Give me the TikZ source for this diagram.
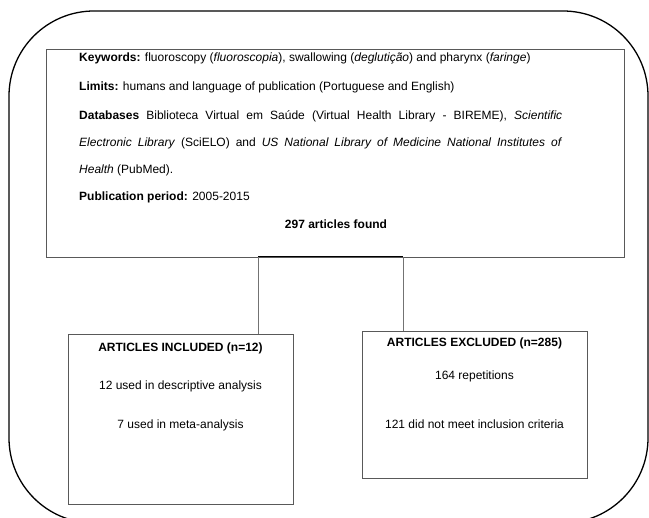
\documentclass[tikz,border=0pt]{standalone}
\usepackage{fontspec}
\setmainfont{Liberation Sans}
\usepackage{tikz}

\begin{document}
\begin{tikzpicture}[x=1pt, y=-1pt,
    every node/.style={font=\fontsize{12}{14}\selectfont},
    box/.style={draw=black!65, line width=0.8pt, rectangle, inner sep=0pt},
    line/.style={anchor=west, inner sep=0pt, text height=9pt, text depth=3pt},
    mid/.style={inner sep=0pt, text height=9pt, text depth=3pt},
    link/.style={draw=black!55, line width=0.8pt}]
    \useasboundingbox (0,0) rectangle (649,518);

    % frame round everything
    \draw[line width=1.3pt, rounded corners=85pt] (9,11) rectangle (648,523);

    % search box
    \node[box, minimum width=578pt, minimum height=208pt] (search) at (335,153) {};
    \node[line] (kw) at (79,59) {\textbf{Keywords:} fluoroscopy (\textit{fluoroscopia}), swallowing (\textit{deglutição}) and pharynx (\textit{faringe})};
    \node[line] (lim) at (79,88) {\textbf{Limits:} humans and language of publication (Portuguese and English)};
    \node[line] (db1) at (79,117) {\makebox[483pt][s]{\textbf{Databases} Biblioteca Virtual em Saúde (Virtual Health Library - BIREME), \textit{Scientific}}};
    \node[line] (db2) at (79,144) {\makebox[483pt][s]{\textit{Electronic Library} (SciELO) and \textit{US National Library of Medicine National Institutes of}}};
    \node[line] (db3) at (79,171) {\textit{Health} (PubMed).};
    \node[line] (per) at (79,198) {\textbf{Publication period:} 2005-2015};
    \node[mid] (found) at (336,226) {\textbf{297 articles found}};

    % result boxes
    \node[box, minimum width=225pt, minimum height=170pt] (inc) at (180.5,419) {};
    \node[mid] (inctitle) at (inc.north |- 0,349) {\textbf{ARTICLES INCLUDED (n=12)}};
    \node[mid] (desc) at (inc.north |- 0,387) {12 used in descriptive analysis};
    \node[mid] (meta) at (inc.north |- 0,426) {7 used in meta-analysis};

    \node[box, minimum width=225pt, minimum height=147pt] (exc) at (474.5,404.5) {};
    \node[mid] (exctitle) at (exc.north |- 0,344) {\textbf{ARTICLES EXCLUDED (n=285)}};
    \node[mid] (rep) at (exc.north |- 0,377) {164 repetitions};
    \node[mid] (crit) at (exc.north |- 0,426) {121 did not meet inclusion criteria};

    % connectors
    \coordinate (jl) at (258,257);
    \coordinate (jr) at (403,257);
    \draw[link] (jl) -- (jl |- inc.north);
    \draw[link] (jr) -- (jr |- exc.north);
    \draw[line width=1pt] (jl) -- (jr);
\end{tikzpicture}
\end{document}
